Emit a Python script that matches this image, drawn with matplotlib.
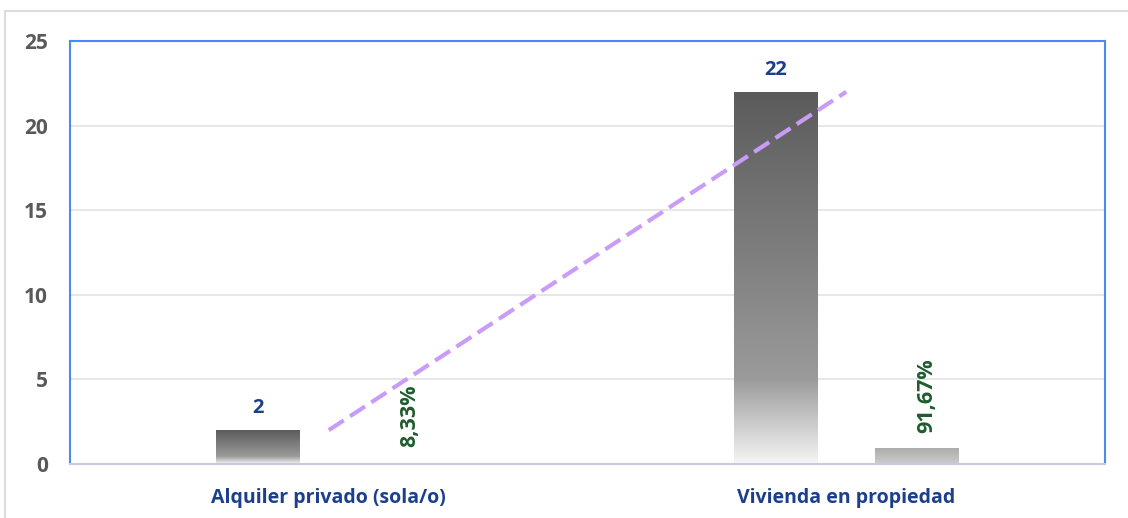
import matplotlib
matplotlib.use("Agg")
import matplotlib.pyplot as plt
import numpy as np
from matplotlib.patches import Rectangle
from matplotlib.colors import LinearSegmentedColormap

categories = ["Alquiler privado (sola/o)", "Vivienda en propiedad"]
counts = [2, 22]
shares = [0.0833, 0.9167]
share_labels = ["8,33%", "91,67%"]
yticks = [0, 5, 10, 15, 20, 25]

plt.rcParams['font.family'] = ['Open Sans', 'DejaVu Sans']

fig = plt.figure(figsize=(11.28, 5.18), dpi=100)
ax = fig.add_axes([70/1128, 1-464/518, 1035/1128, 423/518])

x = np.arange(len(categories))
w = 0.162
off = 0.136
ax.set_xlim(-0.5, 1.5)
ax.set_ylim(0, 25)

cmap_count = LinearSegmentedColormap.from_list(
    'cnt', [(0, '#5b5b5b'), (0.77, '#9a9a9a'), (1.0, '#f5f5f5')])
cmap_share = LinearSegmentedColormap.from_list(
    'shr', [(0, '#acacac'), (1.0, '#cdcdcd')])

def grad_bar(ax, xc, h, cmap):
    g = np.linspace(0, 1, 256).reshape(-1, 1)
    rect = Rectangle((xc - w/2, 0), w, h, facecolor='none', edgecolor='none')
    ax.add_patch(rect)
    im = ax.imshow(g, cmap=cmap, vmin=0, vmax=1, extent=(xc - w/2, xc + w/2, 0, h),
                   aspect='auto', origin='upper', zorder=2, interpolation='bilinear')
    im.set_clip_path(rect)

for i in range(len(categories)):
    grad_bar(ax, x[i] - off, counts[i], cmap_count)
    grad_bar(ax, x[i] + off, shares[i], cmap_share)
    ax.text(x[i] - off, counts[i] + 0.72, str(counts[i]), ha='center', va='bottom',
            fontsize=14.5, fontweight='bold', color='#1c3f8c')
    ax.text(x[i] + off + 0.02, shares[i] + 0.9, share_labels[i], ha='center', va='bottom',
            rotation=90, fontsize=15.5, fontweight='bold', color='#1e5c2e')

# linear trendline of counts
p = np.polyfit(x, counts, 1)
ax.plot(x, np.polyval(p, x), linestyle=(0, (4.3, 1.8)), color='#c99cf7', lw=3, zorder=3)

ax.set_xticks(x)
ax.set_xticklabels(categories, fontsize=14, fontweight='bold', color='#1c3f8c')
ax.set_yticks(yticks)
ax.set_yticklabels([str(t) for t in yticks], fontsize=15, fontweight='bold', color='#595959')
ax.tick_params(axis='both', length=0)
ax.tick_params(axis='x', pad=17)
ax.tick_params(axis='y', pad=16)

ax.grid(axis='y', color='#d4d4d4', lw=1.3, zorder=2.5, alpha=0.6)
for s in ['left', 'top', 'right']:
    ax.spines[s].set_color('#4a8af4')
    ax.spines[s].set_linewidth(1.5)
ax.spines['bottom'].set_color('#c5cbe0')
ax.spines['bottom'].set_linewidth(1.5)

# outer border
fig.patches.append(Rectangle((5/1128, -0.1), 1.2, 1 - 11/518 + 0.1, transform=fig.transFigure,
                             fill=False, edgecolor='#dcdcdc', lw=1.5))

fig.savefig('out.png', dpi=100)
